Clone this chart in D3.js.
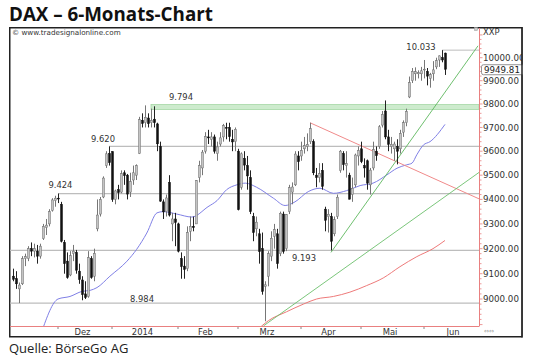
<!DOCTYPE html>
<html><head><meta charset="utf-8">
<script src="https://cdn.jsdelivr.net/npm/d3@7"></script>
<style>body{margin:0;background:#fff;} svg{display:block;}</style>
</head><body><svg id="c" width="540" height="361"></svg>
<script>
// ---------- DATA ----------
const firstDay = "2013-11-11", lastDay = "2014-06-11";
const holidays = ["2013-12-24","2013-12-25","2013-12-26","2013-12-31","2014-01-01","2014-04-18","2014-04-21","2014-05-01"];
// Nov(15) Dec(18) Jan(22) Feb(20) Mar(21) Apr(20) May(21) Jun(8)
const opens = [
 9090,9080,9040,9060,9160,9160,9200,9190,9190,9170,9240,9285,9300,9355,9395,
 9405,9380,9225,9150,9095,9180,9185,9110,9075,9020,9010,9160,9090,9280,9340,9410,9540,9590,
 9598,9400,9440,9430,9510,9500,9430,9480,9500,9590,9730,9720,9740,9720,9735,9715,9620,9390,9350,9470,9300,9320,
 9300,9160,9130,9120,9270,9290,9300,9490,9530,9600,9660,9650,9660,9590,9630,9660,9700,9700,9650,9640,
 9600,9450,9570,9540,9490,9330,9280,9260,9200,9050,9090,9170,9250,9260,9180,9340,9200,9350,9430,9460,9580,
 9580,9610,9620,9640,9640,9500,9490,9520,9360,9330,9330,9260,9330,9520,9590,9540,9500,9420,9460,9580,
 9610,9540,9560,9460,9530,9600,9620,9710,9770,9660,9620,9610,9620,9610,9680,9720,9830,9900,9930,9930,9930,
 9950,9940,9910,9930,9960,9990,10000,10020];
const highs = [
 9120,9110,9065,9170,9180,9210,9225,9220,9215,9220,9300,9320,9360,9405,9415,
 9424,9390,9235,9185,9190,9215,9195,9140,9090,9070,9190,9170,9200,9400,9410,9495,9600,9620,
 9600,9440,9460,9520,9520,9505,9510,9540,9545,9745,9760,9794,9760,9780,9790,9720,9640,9400,9420,9500,9345,9345,
 9305,9185,9170,9290,9330,9330,9480,9560,9605,9680,9690,9680,9670,9640,9680,9715,9720,9720,9690,9700,
 9610,9595,9600,9580,9520,9345,9330,9280,9265,9070,9190,9270,9300,9280,9350,9350,9340,9460,9470,9600,9600,
 9640,9660,9675,9720,9650,9530,9550,9550,9370,9360,9345,9330,9420,9605,9600,9600,9510,9490,9590,9620,
 9640,9570,9565,9530,9640,9620,9710,9770,9815,9690,9660,9640,9650,9690,9730,9780,9918,9955,9958,9945,9960,
 9990,9955,9934,9985,10000,10010,10033,10022];
const lows = [
 9070,9040,8984,9055,9130,9150,9170,9165,9140,9160,9235,9255,9290,9350,9370,
 9385,9225,9100,9080,9090,9150,9100,9060,8995,9000,9005,9080,9070,9270,9330,9405,9530,9540,
 9390,9380,9400,9425,9460,9400,9410,9460,9480,9588,9700,9700,9700,9700,9700,9600,9390,9320,9330,9330,9230,9210,
 9185,9080,9080,9110,9230,9270,9300,9470,9500,9590,9630,9620,9590,9560,9620,9640,9650,9640,9600,9600,
 9355,9440,9520,9440,9340,9230,9250,9140,9017,8913,9050,9150,9200,9120,9170,9180,9190,9340,9380,9455,9520,
 9560,9590,9600,9630,9500,9450,9470,9440,9270,9265,9193,9250,9320,9510,9520,9490,9400,9390,9450,9540,
 9550,9490,9440,9420,9520,9560,9610,9700,9650,9600,9590,9560,9545,9590,9660,9705,9825,9890,9900,9910,9900,
 9910,9880,9870,9900,9950,9960,9980,9925];
const closes = [
 9078,9060,9055,9160,9168,9200,9190,9200,9170,9210,9290,9295,9350,9398,9405,
 9402,9230,9140,9085,9172,9190,9114,9077,9017,9006,9164,9085,9181,9336,9400,9488,9589,9552,
 9400,9435,9428,9506,9498,9422,9473,9510,9540,9733,9717,9743,9716,9730,9720,9631,9393,9349,9406,9336,9320,9306,
 9190,9128,9117,9265,9290,9285,9478,9540,9596,9662,9656,9660,9600,9618,9656,9708,9699,9661,9639,9692,
 9358,9589,9542,9497,9350,9265,9307,9188,9030,9056,9180,9242,9277,9140,9343,9189,9338,9448,9451,9588,9556,
 9603,9623,9628,9695,9510,9490,9506,9454,9315,9339,9230,9317,9409,9600,9544,9548,9401,9446,9584,9603,
 9556,9530,9467,9521,9607,9581,9703,9755,9660,9629,9629,9630,9600,9675,9720,9768,9892,9940,9939,9935,9943,
 9950,9920,9926,9947,9987,10008,9990,9949.81];
const lastPrice = 9949.81;
const symbol = "XXP";

// moving averages (bar number from 2 Dec 2013, price)
const blueMaBar = [-5.5,0,4,8,10.7,13,17.3,23,26.2,29.6,33,35,39.6,44.6,50,53,56.2,59.6,62.5,66.2,71.8,75.7,79,83.4,87.3,91.8,96.2,100.7,105,109.6,113,116.2,118,119.6,121.8,124,129];
const blueMaVal = [8870,9000,9010,9030,9034,9045,9090,9150,9197,9263,9345,9350,9340,9328,9370,9395,9440,9460,9467,9450,9405,9375,9390,9432,9446,9425,9436,9457,9467,9501,9529,9543,9550,9585,9626,9640,9713];
const redMaBar = [66.5,70.1,76.2,81.8,86.2,91.8,97.3,102.9,108.4,114,119.6,125,129];
const redMaVal = [8880,8915,8950,8980,9000,9010,9027,9053,9083,9128,9168,9200,9233];

// trend lines [bar, price]
const redTrend = [[84,9720],[140.4,9402]];
const greenSteep = [[91,9185],[140,10052]];
const greenShallow = [[68.5,8895],[140.4,9512]];

// support / resistance levels
const levelValues = [10033, 9620, 9424, 9193, 8984];
const levelLabels = ["10.033","9.620","9.424","9.193","8.984"];
const levelFrom = [128, 17, 0, -16, -16];
const bandLow = 9776, bandHigh = 9798, bandFrom = 31, bandLabel = "9.794";

const yTicks = [9000,9100,9200,9300,9400,9500,9600,9700,9800,9900,10000];
const monthNames = ["Dez","2014","Feb","Mrz","Apr","Mai","Jun"];

// ---------- LAYOUT ----------
const svg = d3.select("#c");
const L = 10, R = 479, T = 28, B = 326;
const pad = d3.timeFormat("%Y-%m-%d");
const days = d3.timeDay.range(new Date(firstDay+"T00:00"), d3.timeDay.offset(new Date(lastDay+"T00:00"),1))
  .filter(d => d.getDay()!==0 && d.getDay()!==6 && !holidays.includes(pad(d)));
const dec2 = days.findIndex(d => pad(d)==="2013-12-02");
const bars = days.map((d,i)=>({d, i:i-dec2, o:opens[i], h:highs[i], l:lows[i], c:closes[i]}));

const x = d3.scaleLinear().domain([-16, 140.33]).range([L, R]);
const y = d3.scaleLog().domain([9000, 10000]).range([299, 57.7]);

svg.append("defs").append("clipPath").attr("id","pc")
  .append("rect").attr("x",L).attr("y",T).attr("width",R-L).attr("height",B-T);

// title
const title = svg.append("text").attr("x",9).attr("y",21)
  .attr("font-family","Open Sans").attr("font-weight","bold").attr("font-size",19).attr("fill","#111")
  .text("DAX \u2013 6-Monats-Chart");
// source
svg.append("text").attr("x",9).attr("y",353)
  .attr("font-family","Open Sans").attr("font-size",13).attr("fill","#222")
  .text("Quelle: BörseGo AG");

// frame
svg.append("rect").attr("x",9.75).attr("y",27.75).attr("width",512.5).attr("height",309)
  .attr("fill","none").attr("stroke","#222").attr("stroke-width",1.5);

svg.append("text").attr("x",12).attr("y",34.5).attr("font-family","DejaVu Sans").attr("font-size",7.2)
  .attr("fill","#333").text("\u00a9 www.tradesignalonline.com");

const g = svg.append("g").attr("clip-path","url(#pc)");

// levels
levelValues.forEach((v,k)=>{
  g.append("line").attr("x1",x(levelFrom[k])).attr("x2",R).attr("y1",y(v)).attr("y2",y(v))
    .attr("stroke", k===0 ? "#aaa" : "#bdbdbd").attr("stroke-width", k===0 ? 0.8 : 1.3);
});
g.append("rect").attr("x",x(bandFrom)).attr("width",R-x(bandFrom))
  .attr("y",y(bandHigh)).attr("height",y(bandLow)-y(bandHigh))
  .attr("fill","#cdebcd").attr("stroke","#a6d8a6").attr("stroke-width",0.8);

// moving averages
const ln = d3.line().x(p=>x(p[0])).y(p=>y(p[1])).curve(d3.curveMonotoneX);
g.append("path").attr("d", ln(blueMaBar.map((b,i)=>[b,blueMaVal[i]])))
  .attr("fill","none").attr("stroke","#8080e6").attr("stroke-width",1);
g.append("path").attr("d", ln(redMaBar.map((b,i)=>[b,redMaVal[i]])))
  .attr("fill","none").attr("stroke","#ee7a7a").attr("stroke-width",1);

// trend lines
const tl = d3.line().x(p=>x(p[0])).y(p=>y(p[1]));
g.append("path").attr("d",tl(redTrend)).attr("stroke","#f08a8a").attr("stroke-width",1).attr("fill","none");
g.append("path").attr("d",tl(greenSteep)).attr("stroke","#5db85d").attr("stroke-width",0.9).attr("fill","none");
g.append("path").attr("d",tl(greenShallow)).attr("stroke","#6cbf6c").attr("stroke-width",0.9).attr("fill","none");

// bars
const bg = g.append("g");
bars.forEach(b=>{
  const up = b.c >= b.o;
  const cx = Math.round(x(b.i)) + 0.5;
  bg.append("line").attr("x1",cx).attr("x2",cx).attr("y1",y(b.h)).attr("y2",y(b.l))
    .attr("stroke", up ? "#777" : "#222").attr("stroke-width",1);
  const top = y(Math.max(b.o,b.c)), bot = y(Math.min(b.o,b.c));
  bg.append("rect").attr("x",cx-1).attr("width",2).attr("y",top).attr("height",Math.max(0.8,bot-top))
    .attr("fill", up ? "#c4c4c4" : "#111").attr("stroke", up ? "#6a6a6a" : "#111").attr("stroke-width",0.5);
});

// level labels
const lab = (t,xc,yb)=>svg.append("text").attr("x",xc).attr("y",yb).attr("text-anchor","middle")
  .attr("font-family","DejaVu Sans").attr("font-size",8.4).attr("fill","#333").text(t);
const labelBar = [121, 15, 0.8, 82, 28];
const labelDy = [-0.5, -4.5, -5.5, 11, -1.5];
levelValues.forEach((v,k)=>lab(levelLabels[k], x(labelBar[k]), y(v)+labelDy[k]));
lab(bandLabel, x(41), y(bandHigh)-4);

// right axis
svg.append("line").attr("x1",R+0.5).attr("x2",R+0.5).attr("y1",T).attr("y2",B)
  .attr("stroke","#e98080").attr("stroke-width",1);
d3.range(8900, 10140, 20).forEach(v=>{
  const yy = y(v); if (yy < T+3 || yy > B) return;
  const major = v % 100 === 0;
  svg.append("line").attr("x1",R+0.5).attr("x2",R+(major?3.5:2.5)).attr("y1",yy).attr("y2",yy)
    .attr("stroke","#e98080").attr("stroke-width",0.8);
});
yTicks.forEach(v=>{
  svg.append("text").attr("x",483).attr("y",y(v)).attr("dy","0.35em")
    .attr("font-family","DejaVu Sans").attr("font-size",8.7).attr("fill","#333")
    .text(d3.format(".2f")(v));
});
svg.append("text").attr("x",483).attr("y",34.5).attr("font-family","DejaVu Sans").attr("font-size",8.4)
  .attr("fill","#333").text(symbol);
svg.append("rect").attr("x",474.5).attr("y",27.5).attr("width",3).attr("height",3).attr("fill","#ccc").attr("stroke","#999").attr("stroke-width",0.5);

// last price box
const ly = y(lastPrice);
svg.append("rect").attr("x",481.5).attr("y",ly-4.5).attr("width",44).attr("height",10).attr("rx",2)
  .attr("fill","#fff").attr("stroke","#777").attr("stroke-width",0.8);
svg.append("text").attr("x",484).attr("y",ly+0.5).attr("dy","0.35em")
  .attr("font-family","DejaVu Sans").attr("font-size",8.7).attr("fill","#222").text(d3.format(".2f")(lastPrice));
// clip overflow of right-hand text at frame
svg.append("rect").attr("x",522.6).attr("y",20).attr("width",20).attr("height",330).attr("fill","#fff");
svg.append("line").attr("x1",522).attr("x2",522).attr("y1",27).attr("y2",337.5).attr("stroke","#222").attr("stroke-width",1.5);

// bottom axis
svg.append("line").attr("x1",L).attr("x2",R+0.5).attr("y1",B+0.5).attr("y2",B+0.5)
  .attr("stroke","#e98080").attr("stroke-width",1);
const monthStarts = [];
bars.forEach((b,k)=>{ if (k>0 && b.d.getMonth()!==bars[k-1].d.getMonth()) monthStarts.push(b.i); });
monthStarts.forEach((m,k)=>{
  svg.append("line").attr("x1",x(m)).attr("x2",x(m)).attr("y1",B+1).attr("y2",B+3)
    .attr("stroke","#666").attr("stroke-width",0.8);
  const next = k+1 < monthStarts.length ? monthStarts[k+1] : m + 21;
  svg.append("text").attr("x",x((m+next)/2)-2.5).attr("y",334.5).attr("text-anchor","middle")
    .attr("font-family","DejaVu Sans").attr("font-size",8.4).attr("fill","#333").text(monthNames[k]);
});
svg.append("text").attr("x",484).attr("y",333).attr("font-family","DejaVu Sans").attr("font-size",6)
  .attr("fill","#999").text("\u21d4\u21d4");

// fit title width
const tw = title.node().getComputedTextLength();
title.attr("font-size", 19*204/tw);
</script></body></html>
